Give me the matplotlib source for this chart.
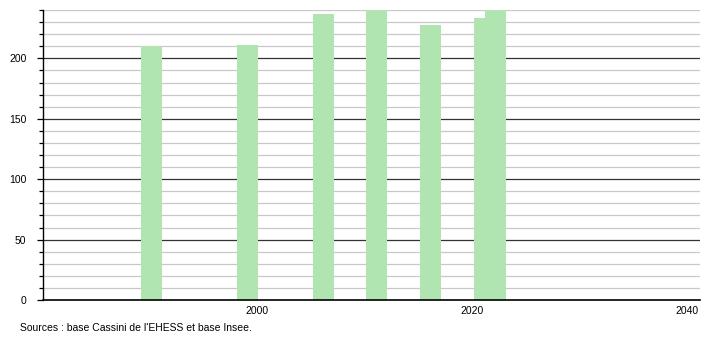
import matplotlib
matplotlib.use("Agg")
import matplotlib.pyplot as plt
from matplotlib.ticker import MultipleLocator

years = [1990, 1999, 2006, 2011, 2016, 2021, 2022]
population = [210, 211, 237, 240, 228, 233, 240]
xtick_labels = ["2000", "2020", "2040"]
xtick_values = [2000, 2020, 2040]
ytick_values = [0, 50, 100, 150, 200]

plt.rcParams['font.family'] = ['Liberation Sans', 'DejaVu Sans']

fig = plt.figure(figsize=(7.1, 3.4), dpi=100)
ax = fig.add_axes([43/710, 40/340, (700-43)/710, 290/340])

ax.set_xlim(1980.1, 2041.2)
ax.set_ylim(0, 240)

# grid lines
for v in range(10, 241, 10):
    if v % 50 == 0:
        ax.axhline(v, color='#333333', lw=0.9, zorder=1)
    else:
        ax.axhline(v, color='#c8c8c8', lw=0.9, zorder=1)

ax.bar([y + 0.15 for y in years], population, width=1.95, color='#b0e4b0',
       edgecolor='none', zorder=2)

ax.yaxis.set_major_locator(MultipleLocator(50))
ax.yaxis.set_minor_locator(MultipleLocator(10))
ax.set_yticks(ytick_values)
ax.set_xticks(xtick_values)
ax.set_xticklabels(xtick_labels)

ax.tick_params(axis='y', which='major', length=4, width=0.9, labelsize=7.5, pad=8)
ax.tick_params(axis='y', which='minor', length=3, width=0.9)
ax.tick_params(axis='x', which='both', length=0, labelsize=7.5, pad=4)

for s in ['top', 'right']:
    ax.spines[s].set_visible(False)
ax.spines['left'].set_linewidth(1.0)
ax.spines['bottom'].set_linewidth(1.2)
ax.spines['left'].set_zorder(3)
ax.spines['bottom'].set_zorder(3)

fig.text(20/710, 1 - 328/340, "Sources : base Cassini de l'EHESS et base Insee.",
         fontsize=7.5, va='center', ha='left')

fig.savefig("out.png", dpi=100)
